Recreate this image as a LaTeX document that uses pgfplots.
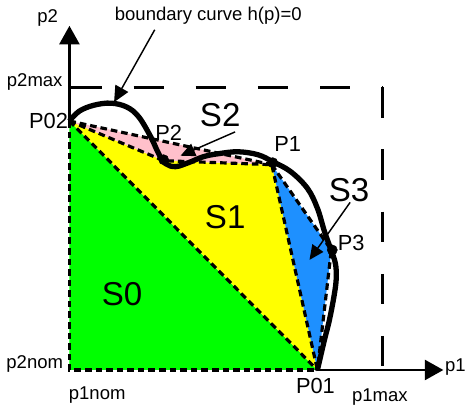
\documentclass[border=0pt]{standalone}
\usepackage{pgfplots}
\pgfplotsset{compat=1.18}
\usepackage{fontspec}
\setmainfont{Liberation Sans}
\usetikzlibrary{arrows.meta}
\definecolor{sgreen}{RGB}{0,255,0}
\definecolor{syellow}{RGB}{255,255,0}
\definecolor{spink}{RGB}{255,192,203}
\definecolor{sblue}{RGB}{30,144,255}
\begin{document}
\begin{tikzpicture}
\begin{axis}[
  width=352.5pt, height=306pt, scale only axis,
  xmin=0, xmax=470, ymin=0, ymax=408, y dir=reverse,
  hide axis, clip=false,
]
\tikzset{sm/.style={font=\fontsize{14}{16}\selectfont},
         md/.style={font=\fontsize{16.5}{18}\selectfont},
         lg/.style={font=\fontsize{25}{28}\selectfont}}
% invisible frame for bounding box
\addplot[draw=none, forget plot] coordinates {(0,0) (470,408)};
% region fills
\addplot[fill=sgreen, draw=none] coordinates {(70,122) (70,373) (320,373)} -- cycle;
\addplot[fill=syellow, draw=none] coordinates {(70,122) (165,162) (274,166) (320,373)} -- cycle;
\addplot[fill=spink, draw=none] coordinates {(70,122) (274,166) (165,162)} -- cycle;
\addplot[fill=sblue, draw=none] coordinates {(274,166) (334,252) (320,373)} -- cycle;
% dashed region edges
\pgfplotsset{edge/.style={black, line width=2.4pt, dash pattern=on 5pt off 3pt}}
\addplot[edge] coordinates {(70,122) (70,373) (320,373)};
\addplot[edge] coordinates {(70,122) (320,373)};
\addplot[edge] coordinates {(70,122) (165,162) (274,166) (320,373)};
\addplot[edge] coordinates {(70,122) (274,166)};
\addplot[edge] coordinates {(274,166) (334,252) (320,373)};
% limit lines
\addplot[black, line width=2.2pt, dash pattern=on 23pt off 24pt] coordinates {(72,88) (386,88)};
\addplot[black, line width=2.2pt, dash pattern=on 23pt off 24pt] coordinates {(386,88) (386,373)};
% axes
\addplot[black, line width=2.2pt, -{Triangle[length=14pt,width=15pt]}] coordinates {(70,122) (70,26)};
\addplot[black, line width=2.2pt, -{Triangle[length=14pt,width=15pt]}] coordinates {(320,373) (447,373)};
% boundary curve
\addplot[black, line width=4pt, smooth, tension=0.6] coordinates {
 (70,122) (80,112) (95,106) (112,104) (128,108) (140,118) (152,138) (160,155)
 (167,165) (177,168) (190,164) (205,158) (220,155) (240,153) (260,156) (275,163)
 (293,173) (310,190) (320,210) (327,233) (333,250) (338,265) (339,280) (337,297)
 (332,323) (327,343) (320,373)};
% points
\addplot[only marks, mark=*, mark size=3.8pt, black] coordinates {(165,161) (275,164) (335,252)};
% annotation arrows
\draw[black, line width=1.1pt, -{Triangle[length=12pt,width=11pt]}] (axis cs:156,30) -- (axis cs:115,103);
\draw[black, line width=1.1pt, -{Triangle[length=11pt,width=10pt]}] (axis cs:237,133) -- (axis cs:182,157);
\draw[black, line width=1.1pt, -{Triangle[length=11pt,width=10pt]}] (axis cs:353,204) -- (axis cs:312,262);
% labels
\node[sm] at (axis cs:48,18) {p2};
\node[sm] at (axis cs:210,16) {boundary curve h(p)=0};
\node[sm] at (axis cs:35,83) {p2max};
\node[sm] at (axis cs:35,367) {p2nom};
\node[sm] at (axis cs:98,398) {p1nom};
\node[sm] at (axis cs:383,400) {p1max};
\node[sm] at (axis cs:459,370) {p1};
\node[md] at (axis cs:49,122) {P02};
\node[md] at (axis cs:170,134) {P2};
\node[md] at (axis cs:290,145) {P1};
\node[md] at (axis cs:354,245) {P3};
\node[md] at (axis cs:318,389) {P01};
\node[lg] at (axis cs:222,116) {S2};
\node[lg] at (axis cs:352,192) {S3};
\node[lg] at (axis cs:227,219) {S1};
\node[lg] at (axis cs:123,297) {S0};
\end{axis}
\end{tikzpicture}
\end{document}
